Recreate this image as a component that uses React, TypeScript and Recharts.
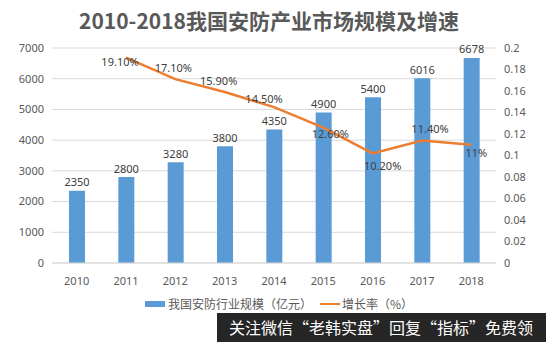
import React from 'react';
import { ComposedChart, Bar, Line, XAxis, YAxis, CartesianGrid, LabelList } from 'recharts';

const years = ['2010', '2011', '2012', '2013', '2014', '2015', '2016', '2017', '2018'];
const scale = [2350, 2800, 3280, 3800, 4350, 4900, 5400, 6016, 6678];
const rate = [null, 0.191, 0.171, 0.159, 0.145, 0.126, 0.102, 0.114, 0.11];
const rateLabels = ['', '19.10%', '17.10%', '15.90%', '14.50%', '12.60%', '10.20%', '11.40%', '11%'];
const leftTicks = [0, 1000, 2000, 3000, 4000, 5000, 6000, 7000];
const rightTicks = [0, 0.02, 0.04, 0.06, 0.08, 0.1, 0.12, 0.14, 0.16, 0.18, 0.2];

const data = years.map((y, i) => ({ year: y, scale: scale[i], rate: rate[i], rateLabel: rateLabels[i] }));

const LABEL_OFFSETS: [number, number][] = [
  [0, 0], [-6, 4], [-2, -12], [-6, -12], [-10, -9], [7, 6], [10, 12], [8, -12], [5, 8],
];

const FONT = '"Noto Sans", "Noto Sans CJK SC", sans-serif';
const TXT = '#595959';

const RateLabel = (props: any) => {
  const { x, y, index, value } = props;
  if (!value) return null;
  const [dx, dy] = LABEL_OFFSETS[index] || [0, 0];
  return (
    <text x={x + dx} y={y + dy} textAnchor="middle" dominantBaseline="central" fontSize={11} fill="#404040" fontFamily={FONT}>
      {value}
    </text>
  );
};

const BarLabel = (props: any) => {
  const { x, y, width, value } = props;
  return (
    <text x={x + width / 2} y={y - 9} textAnchor="middle" dominantBaseline="central" fontSize={11} fill="#404040" fontFamily={FONT}>
      {value}
    </text>
  );
};

export default function App() {
  return (
    <div style={{ position: 'absolute', left: 0, top: 0, width: 546, height: 342, background: '#fff', overflow: 'hidden' }}>
      <div style={{ position: 'absolute', left: 0, top: 6, width: 538, textAlign: 'center', fontFamily: '"Noto Sans CJK SC", sans-serif', fontWeight: 700, fontSize: 21, color: TXT, lineHeight: '28px' }}>
        2010-2018我国安防产业市场规模及增速
      </div>
      <ComposedChart width={546} height={342} data={data} margin={{ top: 48, right: 6, bottom: 49, left: 0 }} style={{ position: 'absolute', left: 0, top: 0 }}>
        <CartesianGrid vertical={false} stroke="#d9d9d9" yAxisId="left" />
        <XAxis dataKey="year" height={30} tickLine={false} axisLine={{ stroke: '#d9d9d9' }} tick={{ fontSize: 11, fill: TXT, fontFamily: FONT }} tickMargin={8} />
        <YAxis yAxisId="left" width={52} domain={[0, 7000]} ticks={leftTicks} axisLine={false} tickLine={false} tickSize={0} tickMargin={8} tick={{ fontSize: 11, fill: TXT, fontFamily: FONT }} interval={0} />
        <YAxis yAxisId="right" orientation="right" width={44} domain={[0, 0.2]} ticks={rightTicks} axisLine={false} tickLine={false} tickSize={0} tickMargin={8} tick={{ fontSize: 11, fill: TXT, fontFamily: FONT, textAnchor: 'start' }} interval={0} />
        <Bar yAxisId="left" dataKey="scale" fill="#5b9bd5" barSize={16} isAnimationActive={false}>
          <LabelList dataKey="scale" content={BarLabel} />
        </Bar>
        <Line yAxisId="right" dataKey="rate" stroke="#ed7d31" strokeWidth={2.5} dot={false} isAnimationActive={false} connectNulls={false}>
          <LabelList dataKey="rateLabel" content={RateLabel} />
        </Line>
      </ComposedChart>
      <div style={{ position: 'absolute', left: 145, top: 295, display: 'flex', alignItems: 'center', fontFamily: '"Noto Sans CJK SC", sans-serif', fontSize: 12, color: TXT, whiteSpace: 'nowrap' }}>
        <span style={{ display: 'inline-block', width: 20, height: 6, background: '#5b9bd5', marginRight: 3 }} />
        <span>我国安防行业规模（亿元）</span>
        <span style={{ display: 'inline-block', width: 20, height: 2, background: '#ed7d31', marginLeft: 8, marginRight: 2 }} />
        <span>增长率（%）</span>
      </div>
      <div style={{ position: 'absolute', left: 217, top: 313, width: 329, height: 29, background: '#262626', color: '#fff', fontFamily: '"Noto Sans CJK SC", sans-serif', fontSize: 16, lineHeight: '29px', paddingLeft: 12, boxSizing: 'border-box', whiteSpace: 'nowrap' }}>
        关注微信“老韩实盘”回复“指标”免费领
      </div>
    </div>
  );
}
